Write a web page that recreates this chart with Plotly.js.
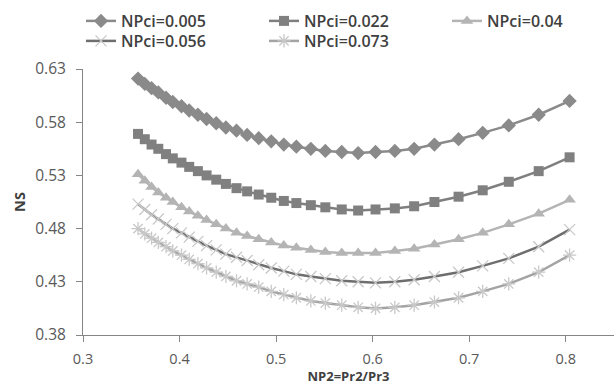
<!DOCTYPE html>
<html>
<head>
<meta charset="utf-8">
<script src="https://cdn.plot.ly/plotly-3.0.1.min.js"></script>
<style>html,body{margin:0;padding:0;background:#fff;}#chart{width:616px;height:385px;}</style>
</head>
<body>
<div id="chart"></div>
<script>
// NP2 = Pr2/Pr3 values (shared by all series)
const np2 = [0.357, 0.364, 0.371, 0.378, 0.386, 0.393, 0.402, 0.410, 0.419, 0.428, 0.438,
             0.448, 0.459, 0.470, 0.482, 0.495, 0.508, 0.521, 0.536, 0.551, 0.568,
             0.585, 0.603, 0.623, 0.643, 0.664, 0.689, 0.714, 0.741, 0.772, 0.804];

const seriesNames = ["NPci=0.005", "NPci=0.022", "NPci=0.04", "NPci=0.056", "NPci=0.073"];

const ns005 = [0.621, 0.616, 0.612, 0.608, 0.603, 0.599, 0.595, 0.591, 0.587, 0.583, 0.579,
               0.575, 0.572, 0.568, 0.565, 0.562, 0.559, 0.557, 0.555, 0.553, 0.552,
               0.551, 0.552, 0.553, 0.555, 0.559, 0.564, 0.570, 0.577, 0.587, 0.600];
const ns022 = [0.569, 0.564, 0.559, 0.555, 0.550, 0.546, 0.542, 0.538, 0.534, 0.530, 0.526,
               0.522, 0.518, 0.515, 0.512, 0.509, 0.506, 0.504, 0.502, 0.500, 0.498,
               0.497, 0.498, 0.499, 0.501, 0.505, 0.510, 0.516, 0.524, 0.534, 0.547];
const ns040 = [0.531, 0.525, 0.519, 0.514, 0.509, 0.505, 0.500, 0.496, 0.492, 0.488, 0.484,
               0.480, 0.476, 0.473, 0.470, 0.467, 0.464, 0.462, 0.460, 0.458, 0.457,
               0.457, 0.457, 0.459, 0.461, 0.465, 0.470, 0.476, 0.484, 0.494, 0.507];
const ns056 = [0.503, 0.498, 0.493, 0.489, 0.484, 0.480, 0.476, 0.472, 0.468, 0.464, 0.460,
               0.456, 0.453, 0.450, 0.446, 0.443, 0.440, 0.437, 0.435, 0.433, 0.431,
               0.430, 0.429, 0.430, 0.432, 0.435, 0.439, 0.445, 0.452, 0.463, 0.479];
const ns073 = [0.480, 0.475, 0.471, 0.467, 0.463, 0.459, 0.455, 0.451, 0.447, 0.443, 0.439,
               0.435, 0.431, 0.428, 0.425, 0.421, 0.418, 0.415, 0.412, 0.410, 0.408,
               0.406, 0.405, 0.406, 0.408, 0.411, 0.415, 0.421, 0.428, 0.439, 0.455];

const xTicks = [0.3, 0.4, 0.5, 0.6, 0.7, 0.8];
const yTicks = [0.38, 0.43, 0.48, 0.53, 0.58, 0.63];

const traces = [
  {x: np2, y: ns005, name: seriesNames[0], mode: "lines+markers", legend: "legend",
   line: {color: "#8a8a8a", width: 2.5},
   marker: {symbol: "diamond", size: 11, color: "#8a8a8a"}},
  {x: np2, y: ns022, name: seriesNames[1], mode: "lines+markers", legend: "legend",
   line: {color: "#7f7f7f", width: 2.5},
   marker: {symbol: "square", size: 10, color: "#808080"}},
  {x: np2, y: ns040, name: seriesNames[2], mode: "lines+markers", legend: "legend3",
   line: {color: "#b4b4b4", width: 2.5},
   marker: {symbol: "triangle-up", size: 11, color: "#b4b4b4"}},
  {x: np2, y: ns056, name: seriesNames[3], mode: "lines+markers", legend: "legend2",
   line: {color: "#6e6e6e", width: 2.5},
   marker: {symbol: "x-thin-open", size: 11, color: "#c8c8c8", line: {color: "#c8c8c8", width: 1.3}}},
  {x: np2, y: ns073, name: seriesNames[4], mode: "lines+markers", legend: "legend2",
   line: {color: "#a3a3a3", width: 2.5},
   marker: {symbol: "asterisk-open", size: 11, color: "#c8c8c8", line: {color: "#c8c8c8", width: 1.3}}}
];

const xTickFont = {family: "Open Sans, sans-serif", size: 14.5, color: "#595959"};
const yTickFont = {family: "Open Sans, sans-serif", size: 15.5, color: "#595959"};
const titleFont = {family: "Open Sans, sans-serif", size: 14.5, color: "#404040", weight: 700};
const xTitleFont = {family: "Open Sans, sans-serif", size: 13, color: "#404040", weight: 700};
const legendFont = {family: "Open Sans, sans-serif", size: 16, color: "#404040", weight: 600};

function legendBox(xLeft, yTop) {
  return {
    orientation: "h", xref: "container", yref: "container",
    x: xLeft / 616, y: 1 - yTop / 385, xanchor: "left", yanchor: "top",
    entrywidth: 138, entrywidthmode: "pixels",
    font: legendFont, itemwidth: 30, bgcolor: "rgba(0,0,0,0)"
  };
}

const layout = {
  width: 616, height: 385,
  margin: {l: 83, r: 2, t: 69, b: 50, pad: 0},
  paper_bgcolor: "#ffffff", plot_bgcolor: "#ffffff",
  showlegend: true,
  legend: legendBox(81, 4),
  legend3: legendBox(447, 4),
  legend2: legendBox(81, 24),
  xaxis: {
    range: [0.3, 0.85], tickvals: xTicks, ticktext: xTicks.map(v => v.toFixed(1)),
    ticks: "outside", ticklen: 6, tickcolor: "#868686", tickwidth: 1,
    showline: true, linecolor: "#868686", linewidth: 1, mirror: false,
    showgrid: false, zeroline: false, tickfont: xTickFont, ticklabelstandoff: 5,
    title: {text: "NP2=Pr2/Pr3", font: xTitleFont, standoff: 5}
  },
  yaxis: {
    range: [0.38, 0.63], tickvals: yTicks, ticktext: yTicks.map(v => v.toFixed(2)),
    ticks: "outside", ticklen: 6, tickcolor: "#868686", tickwidth: 1,
    showline: true, linecolor: "#868686", linewidth: 1, mirror: false,
    showgrid: false, zeroline: false, tickfont: yTickFont, ticklabelstandoff: 7,
    title: {text: "NS", font: titleFont, standoff: 6}
  },
  xaxis2: {
    overlaying: "x", matches: "x", range: [0.3, 0.85], tickvals: xTicks,
    ticks: "inside", ticklen: 6, tickcolor: "#868686", showticklabels: false,
    showline: true, linecolor: "#a6a6a6", mirror: true, showgrid: false, zeroline: false
  },
  yaxis2: {
    overlaying: "y", matches: "y", range: [0.38, 0.63], tickvals: yTicks,
    ticks: "inside", ticklen: 6, tickcolor: "#868686", showticklabels: false,
    showline: true, linecolor: "#a6a6a6", mirror: true, showgrid: false, zeroline: false
  }
};

Plotly.newPlot("chart", traces, layout, {displayModeBar: false, staticPlot: true});
</script>
</body>
</html>
